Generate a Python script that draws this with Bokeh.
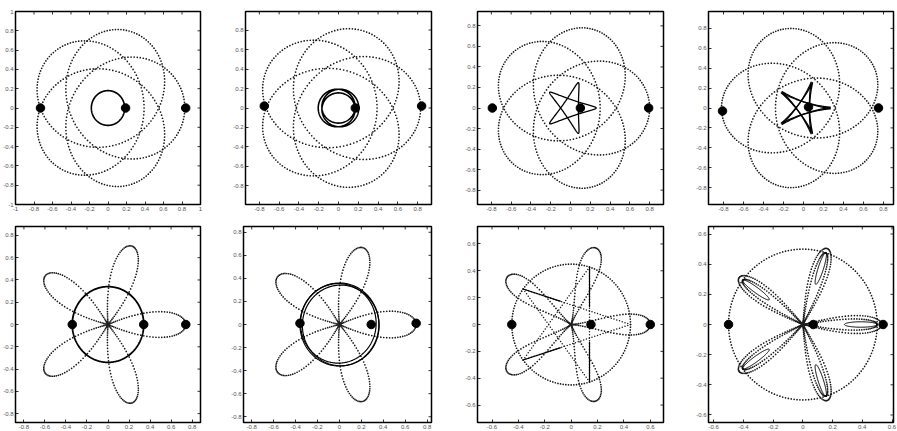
import numpy as np
from bokeh.plotting import figure
from bokeh.layouts import row, column
from bokeh.models import FixedTicker, Range1d
from bokeh.embed import file_html
from bokeh.resources import INLINE

# ---- ticks and tick labels -------------------------------------------------
TICKS_1 = [-1.0, -0.8, -0.6, -0.4, -0.2, 0.0, 0.2, 0.4, 0.6, 0.8, 1.0]
LABELS_1 = ["-1", "-0.8", "-0.6", "-0.4", "-0.2", "0", "0.2", "0.4", "0.6", "0.8", "1"]
TICKS_08 = [-0.8, -0.6, -0.4, -0.2, 0.0, 0.2, 0.4, 0.6, 0.8]
LABELS_08 = ["-0.8", "-0.6", "-0.4", "-0.2", "0", "0.2", "0.4", "0.6", "0.8"]
TICKS_06 = [-0.6, -0.4, -0.2, 0.0, 0.2, 0.4, 0.6]
LABELS_06 = ["-0.6", "-0.4", "-0.2", "0", "0.2", "0.4", "0.6"]

# ---- the three bodies in each panel ---------------------------------------
BODY_X = [[-0.73, 0.19, 0.84], [-0.75, 0.17, 0.84], [-0.79, 0.10, 0.79], [-0.81, 0.05, 0.75],
          [-0.34, 0.34, 0.74], [-0.36, 0.29, 0.70], [-0.45, 0.15, 0.60], [-0.50, 0.07, 0.54]]
BODY_Y = [[0.0, 0.0, 0.0], [0.02, 0.0, 0.02], [0.0, 0.0, 0.0], [-0.03, 0.01, 0.0],
          [0.0, 0.0, 0.0], [0.01, 0.0, 0.01], [0.0, 0.0, 0.0], [0.0, 0.0, 0.0]]

# ---- top row: outer orbits, a loop of radius R whose centre drifts on radius C
OUTER_R = [0.61, 0.61, 0.55, 0.55]
OUTER_C = [0.22, 0.22, 0.25, 0.27]
OUTER_M = [-4, -4, -4, -4]             # loop turns per drift turn
OUTER_PHASE = [0.0, 0.0, 0.0, 36.0]    # degrees

# inner orbits of the top row
INNER_CIRCLE_R = [0.18, 0.18]          # panels 1, 2
INNER_DRIFT = [0.0, 0.025]             # panels 1, 2
STAR_A = [0.17, 0.165]                 # panels 3, 4
STAR_B = [0.09, 0.105]
STAR_TWIST = [0.0, 3.0]                # degrees between the two passes in panel 4

# ---- bottom row: petal orbits ---------------------------------------------
PETAL_ANGLES = [0, 72, 144, 216, 288]
PETAL_LEN = [0.74, 0.70, 0.60, 0.53]
PETAL_WID = [0.15, 0.15, 0.12, 0.08]
PETAL_Q = [1.0, 1.0, 2.0, 1.2]
PETAL8_INNER = (0.50, 0.05)            # second loop of panel 8 (length, width)
SOLID_CIRCLE_5 = 0.34
SOLID_CIRCLES_6 = [(0.0, 0.0, 0.36), (0.012, -0.008, 0.35), (-0.01, 0.01, 0.345)]
DOTTED_CIRCLE_R = [0.45, 0.50]         # panels 7, 8
STAR7_R = 0.45
STAR7_SOLID = [(144, 0), (216, 0), (72, 288), (288, 72)]
STAR7_DOTTED = [(144, 0), (0, 216), (216, 72), (72, 288), (288, 144)]
ELLIPSE8 = (0.39, 0.11, 0.018)         # centre distance, half-length, half-width

XLIM = [(-1, 1), (-0.94, 0.94), (-0.94, 0.94), (-0.95, 0.90),
        (-0.88, 0.88), (-0.875, 0.84), (-0.71, 0.70), (-0.635, 0.61)]
YLIM = [(-1, 1), (-0.99, 0.99), (-0.94, 0.94), (-0.97, 0.97),
        (-0.88, 0.88), (-0.85, 0.85), (-0.73, 0.73), (-0.65, 0.65)]
TICKSETS = [(TICKS_1, LABELS_1), (TICKS_08, LABELS_08), (TICKS_08, LABELS_08), (TICKS_08, LABELS_08),
            (TICKS_08, LABELS_08), (TICKS_08, LABELS_08), (TICKS_06, LABELS_06), (TICKS_06, LABELS_06)]
# left, frame width, right, top, frame height, bottom (pixels)
FRAMES = [(13, 187, 24, 11, 193, 11), (21, 186, 17, 8, 199, 8),
          (29, 186, 9, 8, 196, 11), (36, 185, 4, 9, 197, 9),
          (13, 187, 24, 11, 197, 8), (19, 188, 17, 11, 197, 8),
          (29, 186, 9, 8, 201, 7), (36, 185, 4, 10, 198, 8)]

DOT = "#1a1a1a"
TICK_PX = 3.0


def make_panel(i):
    lb, fw, rb, tb, fh, bb = FRAMES[i]
    x0, x1 = XLIM[i]
    y0, y1 = YLIM[i]
    p = figure(width=lb + fw + rb, height=tb + fh + bb,
               x_range=Range1d(x0, x1), y_range=Range1d(y0, y1),
               output_backend="svg", toolbar_location=None,
               min_border_left=lb, min_border_right=rb,
               min_border_top=tb, min_border_bottom=bb)
    p.xgrid.visible = False
    p.ygrid.visible = False
    p.outline_line_color = "black"
    p.outline_line_width = 1.5
    ticks, labels = TICKSETS[i]
    over = {t: s for t, s in zip(ticks, labels)}
    for ax in (p.xaxis[0], p.yaxis[0]):
        ax.ticker = FixedTicker(ticks=ticks)
        ax.axis_line_color = None
        ax.major_tick_in = int(TICK_PX)
        ax.major_tick_out = 0
        ax.minor_tick_line_color = None
        ax.major_tick_line_color = "black"
        ax.major_tick_line_width = 0.8
        ax.major_label_overrides = over
        ax.major_label_text_font = "Liberation Sans"
        ax.major_label_text_font_size = "6px"
        ax.major_label_text_color = "#555555"
        ax.major_label_standoff = 2
    # mirrored inward ticks along the top and right edges
    dy = TICK_PX * (y1 - y0) / fh
    dx = TICK_PX * (x1 - x0) / fw
    inner_x = [t for t in ticks if x0 < t < x1]
    inner_y = [t for t in ticks if y0 < t < y1]
    p.segment(x0=inner_x, y0=[y1] * len(inner_x), x1=inner_x, y1=[y1 - dy] * len(inner_x),
              line_color="black", line_width=0.8)
    p.segment(x0=[x1] * len(inner_y), y0=inner_y, x1=[x1 - dx] * len(inner_y), y1=inner_y,
              line_color="black", line_width=0.8)
    return p


def dots(p, z, size=1.7):
    p.scatter(z.real, z.imag, size=size, color=DOT, line_color=None)


def rot(deg):
    return np.exp(1j * np.deg2rad(deg))


def petal_curve(L, W, q, angles, n):
    s = np.linspace(0, 2 * np.pi, n, endpoint=False)
    u = L * (1 - np.cos(s)) / 2
    v = W * np.sin(s) * np.abs(np.sin(s / 2)) ** q
    return np.concatenate([(u + 1j * v) * rot(a) for a in angles])


panels = []
for i in range(8):
    p = make_panel(i)
    if i < 4:
        u = np.linspace(0, 2 * np.pi, 470, endpoint=False)
        z = (OUTER_C[i] * np.exp(1j * u) + OUTER_R[i] * np.exp(1j * OUTER_M[i] * u)) * rot(OUTER_PHASE[i])
        dots(p, z)
        if i < 2:
            t = np.linspace(0, 6 * np.pi, 600)
            zi = INNER_CIRCLE_R[i] * np.exp(1j * t) + INNER_DRIFT[i] * np.exp(1j * t / 3)
            p.line(zi.real, zi.imag, line_color="black", line_width=1.6)
        else:
            k = i - 2
            t = np.linspace(0, 2 * np.pi, 500)
            twists = [0.0] if STAR_TWIST[k] == 0 else [-STAR_TWIST[k] / 2, STAR_TWIST[k] / 2]
            for tw in twists:
                zs = (STAR_A[k] * np.exp(2j * t) + STAR_B[k] * np.exp(-3j * t)) * rot(tw)
                p.line(zs.real, zs.imag, line_color="black", line_width=1.3)
    else:
        k = i - 4
        z = petal_curve(PETAL_LEN[k], PETAL_WID[k], PETAL_Q[k], PETAL_ANGLES, 80)
        dots(p, z)
        if k == 0:
            t = np.linspace(0, 2 * np.pi, 300)
            zc = SOLID_CIRCLE_5 * np.exp(1j * t)
            p.line(zc.real, zc.imag, line_color="black", line_width=1.8)
        elif k == 1:
            t = np.linspace(0, 2 * np.pi, 300)
            for cx, cy, r in SOLID_CIRCLES_6:
                zc = cx + 1j * cy + r * np.exp(1j * t)
                p.line(zc.real, zc.imag, line_color="black", line_width=1.2)
        elif k == 2:
            t = np.linspace(0, 2 * np.pi, 140, endpoint=False)
            dots(p, DOTTED_CIRCLE_R[0] * np.exp(1j * t))
            f = np.linspace(0, 1, 40)
            for a, b in STAR7_DOTTED:
                za, zb = STAR7_R * rot(a), STAR7_R * rot(b)
                dots(p, za + (zb - za) * f, size=1.5)
            for a, b in STAR7_SOLID:
                za, zb = STAR7_R * rot(a), STAR7_R * rot(b)
                ze = za + 0.35 * (zb - za)
                p.line([za.real, ze.real], [za.imag, ze.imag], line_color="black", line_width=1.2)
        else:
            t = np.linspace(0, 2 * np.pi, 160, endpoint=False)
            dots(p, DOTTED_CIRCLE_R[1] * np.exp(1j * t))
            z2 = petal_curve(PETAL8_INNER[0], PETAL8_INNER[1], PETAL_Q[3], PETAL_ANGLES, 80)
            dots(p, z2)
            d, a_, b_ = ELLIPSE8
            t = np.linspace(0, 2 * np.pi, 120)
            for ang in PETAL_ANGLES:
                ze = (d + a_ * np.cos(t) + 1j * b_ * np.sin(t)) * rot(ang)
                p.line(ze.real, ze.imag, line_color="black", line_width=1.0)
        p.scatter([0], [0], size=3, fill_color=None, line_color="#333333", line_width=0.6)
    p.scatter(BODY_X[i], BODY_Y[i], size=8.5, color="black")
    panels.append(p)

layout = column(row(*panels[:4], spacing=0), row(*panels[4:], spacing=0), spacing=0)
open("out.html", "w").write(file_html(layout, INLINE))
